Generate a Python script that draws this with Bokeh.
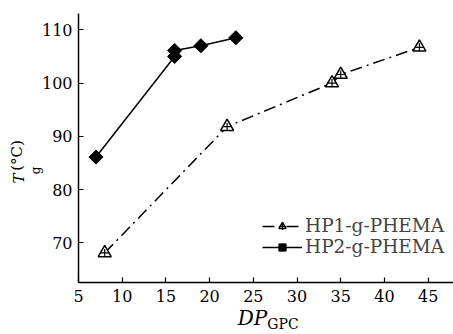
from bokeh.plotting import figure
from bokeh.models import Legend, LegendItem, FixedTicker, Range1d, LinearAxis
from bokeh.embed import file_html
from bokeh.resources import INLINE

# data
hp1_x = [8, 22, 34, 35, 44]
hp1_y = [68.1, 91.8, 100.0, 101.6, 106.7]
hp2_x = [7, 16, 16, 19, 23]
hp2_y = [86.1, 105.0, 106.1, 107.0, 108.5]
x_ticks = [5, 10, 15, 20, 25, 30, 35, 40, 45]
y_ticks = [70, 80, 90, 100, 110]

FONT = "DejaVu Serif"
W, H, BL, BB, BT = 453, 334, 78, 52, 13

p = figure(width=W, height=H, output_backend="svg", toolbar_location=None,
           x_range=Range1d(5.0, 47.9), y_range=Range1d(62.54, 113.06),
           min_border_left=BL, min_border_right=0, min_border_top=BT, min_border_bottom=BB)
p.outline_line_color = None
p.grid.visible = False
p.background_fill_color = "white"
p.border_fill_color = "white"

for ax in (p.xaxis[0], p.yaxis[0]):
    ax.major_tick_in = 5
    ax.major_tick_out = 0
    ax.minor_tick_line_color = None
    ax.axis_line_width = 1.5
    ax.major_tick_line_width = 1.2
    ax.axis_line_color = "black"
    ax.major_tick_line_color = "black"
    ax.major_label_text_font = FONT
    ax.major_label_text_font_size = "16px"
    ax.major_label_text_color = "black"
p.xaxis[0].ticker = FixedTicker(ticks=x_ticks)
p.yaxis[0].ticker = FixedTicker(ticks=y_ticks)
p.xaxis[0].major_label_standoff = 7
p.yaxis[0].major_label_standoff = 6

l1 = p.line(hp1_x, hp1_y, line_color="black", line_width=1.5, line_dash="12 5 2 5")
m1 = p.scatter(hp1_x, hp1_y, marker="triangle", size=13, fill_color="white",
               line_color="black", line_width=1.5)
c1 = p.scatter(hp1_x, hp1_y, marker="cross", size=8, line_color="black", line_width=1.2)
l2 = p.line(hp2_x, hp2_y, line_color="black", line_width=1.5)
m2 = p.scatter(hp2_x, hp2_y, marker="square", angle=0.7854, size=10,
               fill_color="black", line_color="black")

legend = Legend(items=[LegendItem(label="HP1-g-PHEMA", renderers=[l1, m1, c1]),
                       LegendItem(label="HP2-g-PHEMA", renderers=[l2, m2])],
                location=(184, 25), padding=0, margin=0, spacing=0,
                glyph_width=40, label_height=18, glyph_height=18,
                label_text_font=FONT, label_text_font_size="18.5px",
                border_line_color=None, background_fill_alpha=0,
                label_standoff=3)
p.add_layout(legend)

# axis titles, built as label-only axes on pixel ranges
fw, fh = W - BL, H - BB - BT
p.extra_x_ranges = {"px": Range1d(0, fw)}
p.extra_y_ranges = {"py": Range1d(0, fh)}

def label_axis(text, pos, size, style, standoff, vertical):
    if vertical:
        ax = LinearAxis(y_range_name="py", major_label_orientation="vertical")
    else:
        ax = LinearAxis(x_range_name="px")
    ax.ticker = FixedTicker(ticks=[pos])
    ax.major_label_overrides = {pos: text}
    ax.axis_line_color = None
    ax.major_tick_line_color = None
    ax.minor_tick_line_color = None
    ax.major_tick_in = 0
    ax.major_tick_out = 0
    ax.major_label_standoff = int(standoff)
    ax.major_label_text_font = FONT
    ax.major_label_text_font_size = size
    ax.major_label_text_font_style = style
    ax.major_label_text_color = "black"
    return ax

p.add_layout(label_axis("DP", 174, "20px", "italic", 1, False), "below")
p.add_layout(label_axis("GPC", 204.5, "14px", "normal", -17, False), "below")
p.add_layout(label_axis("g", 112, "12px", "normal", -4, True), "left")
p.add_layout(label_axis("T", 104, "15px", "italic", -2, True), "left")
p.add_layout(label_axis("(°C)", 127, "15px", "normal", -19, True), "left")

open("out.html", "w").write(file_html(p, INLINE))
